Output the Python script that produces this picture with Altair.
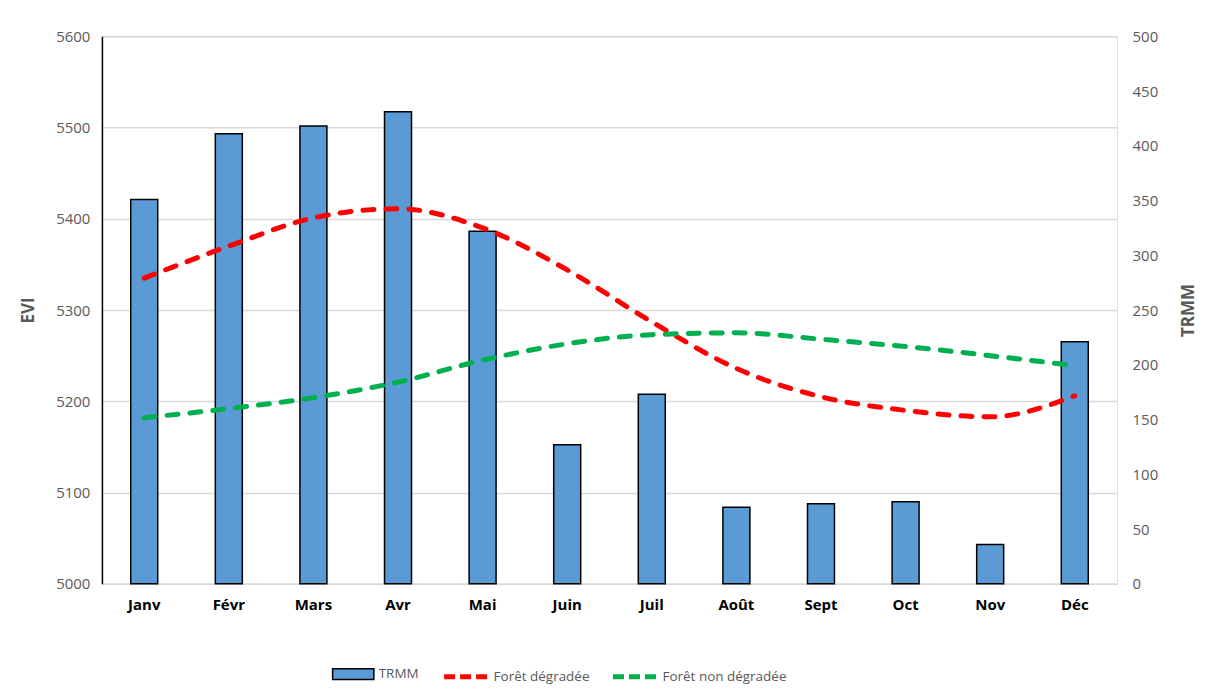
import altair as alt
import pandas as pd

months = ["Janv", "Févr", "Mars", "Avr", "Mai", "Juin", "Juil", "Août", "Sept", "Oct", "Nov", "Déc"]
trmm = [351, 411, 418, 431, 322, 127, 173, 70, 73, 75, 36, 221]
evi_degradee = [5335, 5370, 5401, 5411, 5390, 5344, 5287, 5236, 5205, 5190, 5183, 5206]
evi_non_degradee = [5182, 5192, 5204, 5221, 5245, 5263, 5273, 5275, 5268, 5260, 5250, 5239]

series_names = ["Forêt dégradée", "Forêt non dégradée"]
series_colors = ["#FF0000", "#00B050"]

bars_df = pd.DataFrame({"mois": months, "TRMM": trmm, "serie": ["TRMM"] * len(months)})
lines_df = pd.concat([
    pd.DataFrame({"mois": months, "EVI": evi_degradee, "serie": series_names[0], "ordre": range(12)}),
    pd.DataFrame({"mois": months, "EVI": evi_non_degradee, "serie": series_names[1], "ordre": range(12)}),
])

FONT = "Open Sans"
GRAY = "#595959"

x_enc = alt.X("mois:N", sort=months, title=None,
              scale=alt.Scale(paddingInner=0, paddingOuter=0),
              axis=alt.Axis(labelFont=FONT, labelFontSize=15, labelFontWeight="bold",
                            labelColor="#000000", labelAngle=0, labelPadding=14,
                            ticks=False, domainColor="#d9d9d9", domainWidth=1.5, grid=False))

bars = alt.Chart(bars_df).mark_bar(size=27, stroke="#000000", strokeWidth=1.5).encode(
    x=x_enc,
    y=alt.Y("TRMM:Q", scale=alt.Scale(domain=[0, 500], nice=False),
            axis=alt.Axis(orient="right", values=list(range(0, 501, 50)), grid=False,
                          domain=False, ticks=False, labelFont=FONT, labelFontSize=15,
                          labelColor=GRAY, labelPadding=15, title="TRMM", format="d",
                          titleFont=FONT, titleFontSize=17, titleFontWeight="bold",
                          titleColor=GRAY, titleAngle=270, titlePadding=40)),
    fill=alt.Fill("serie:N", scale=alt.Scale(domain=["TRMM"], range=["#5B9BD5"]),
                  legend=alt.Legend(title=None, orient="none", legendX=230, legendY=617,
                                    symbolType="M-1,-0.26H1V0.26H-1Z", symbolSize=1700,
                                    symbolStrokeColor="#000000", symbolStrokeWidth=1.5,
                                    labelFont=FONT, labelFontSize=13.5, labelColor=GRAY,
                                    labelOffset=4)),
)

lines = alt.Chart(lines_df).mark_line(strokeWidth=5, strokeDash=[11, 12], strokeCap="round",
                                      interpolate="monotone").encode(
    x=alt.X("mois:N", sort=months),
    y=alt.Y("EVI:Q", scale=alt.Scale(domain=[5000, 5600], nice=False, zero=False),
            axis=alt.Axis(orient="left", values=list(range(5000, 5601, 100)), grid=True,
                          gridColor="#d9d9d9", gridWidth=1.5, domain=True, format="d",
                          domainColor="#000000", domainWidth=1.5, ticks=False,
                          labelFont=FONT, labelFontSize=15, labelColor=GRAY, labelPadding=12,
                          title="EVI", titleFont=FONT, titleFontSize=17,
                          titleFontWeight="bold", titleColor=GRAY, titlePadding=18)),
    stroke=alt.Stroke("serie:N", scale=alt.Scale(domain=series_names, range=series_colors),
                      legend=alt.Legend(title=None, orient="none", legendX=340, legendY=617,
                                        direction="horizontal", symbolType="stroke",
                                        symbolSize=1849, symbolStrokeWidth=5,
                                        symbolDash=[11, 5], columnPadding=12,
                                        labelFont=FONT, labelFontSize=13.5, labelColor=GRAY,
                                        labelOffset=4)),
    order="ordre:Q",
)

chart = alt.layer(bars, lines).resolve_scale(y="independent", fill="independent", stroke="independent").properties(
    width=1016, height=548,
    autosize=alt.AutoSizeParams(type="none"),
    padding={"left": 94, "top": 28, "right": 90, "bottom": 100},
).configure_view(stroke=None).configure(background="#ffffff")

chart.save("out.html", embed_options={"renderer": "svg", "actions": False})
